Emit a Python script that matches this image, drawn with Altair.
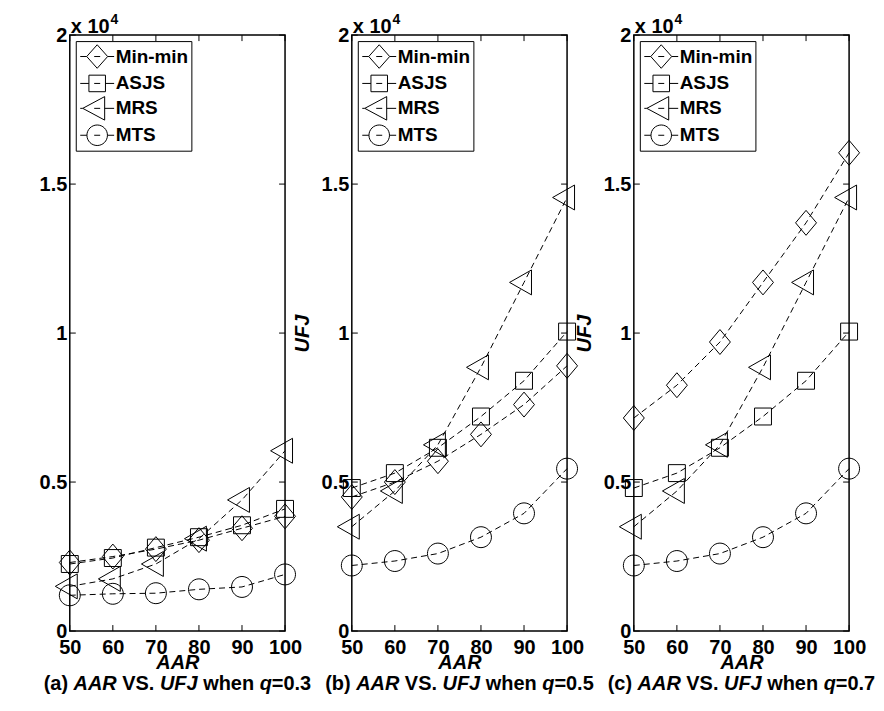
import altair as alt
import pandas as pd

# ---------------- data ----------------
AAR = [50, 60, 70, 80, 90, 100]
SERIES = ["Min-min", "ASJS", "MRS", "MTS"]
PANEL_IDS = ["(a)", "(b)", "(c)"]
Q_VALUES = ["0.3", "0.5", "0.7"]

# panel (a), q = 0.3
a_minmin = [2300, 2500, 2750, 3050, 3450, 3850]
a_asjs = [2250, 2450, 2800, 3150, 3550, 4100]
a_mrs = [1500, 1750, 2250, 3100, 4400, 6050]
a_mts = [1200, 1250, 1270, 1400, 1480, 1900]
# panel (b), q = 0.5
b_minmin = [4500, 5000, 5700, 6600, 7600, 8900]
b_asjs = [4800, 5300, 6150, 7200, 8400, 10050]
b_mrs = [3500, 4700, 6250, 8850, 11700, 14550]
b_mts = [2200, 2350, 2600, 3150, 3950, 5450]
# panel (c), q = 0.7
c_minmin = [7150, 8250, 9700, 11700, 13700, 16050]
c_asjs = [4800, 5300, 6150, 7200, 8400, 10050]
c_mrs = [3500, 4700, 6250, 8850, 11700, 14550]
c_mts = [2200, 2350, 2600, 3150, 3950, 5450]

PANEL_DATA = [
    [a_minmin, a_asjs, a_mrs, a_mts],
    [b_minmin, b_asjs, b_mrs, b_mts],
    [c_minmin, c_asjs, c_mrs, c_mts],
]

Y_TICKS = [0, 5000, 10000, 15000, 20000]
X_TICKS = [50, 60, 70, 80, 90, 100]

# ---------------- style ----------------
FONT = "Liberation Sans"
W, H = 216, 598
TICK = 6
FS = 20

SYM_SIZE = 576
U = (SYM_SIZE ** 0.5) / 2.0


def f(v):
    return f"{v / U:.3f}"


def diamond(hw=10.5, hh=12.5):
    return f"M0,{f(-hh)}L{f(hw)},0L0,{f(hh)}L{f(-hw)},0Z", hw, hw


def square(h=8.5):
    return f"M{f(-h)},{f(-h)}L{f(h)},{f(-h)}L{f(h)},{f(h)}L{f(-h)},{f(h)}Z", h, h


def tri_left(apex=14.5, side=7.5, hh=12.5):
    return f"M{f(-apex)},0L{f(side)},{f(-hh)}L{f(side)},{f(hh)}Z", apex, side


def circle(r=10.5):
    return (f"M{f(-r)},0A{f(r)},{f(r)},0,1,0,{f(r)},0"
            f"A{f(r)},{f(r)},0,1,0,{f(-r)},0Z"), r, r


SHAPES = [diamond(), square(), tri_left(), circle()]
MARKER_PATHS = [s[0] for s in SHAPES]


def with_stubs(shape, ext=17, inner=3):
    p, left, right = shape
    stub = ""
    if left < ext:
        stub += f"M{f(-ext)},0L{f(-left)},0"
    stub += f"M{f(-inner)},0L{f(inner)},0"
    if right < ext:
        stub += f"M{f(right)},0L{f(ext)},0"
    return p + stub


LEGEND_SHAPES = [diamond(hw=10.5, hh=11.8), square(8.3), tri_left(hh=11.8), circle(10.3)]
LEGEND_PATHS = [with_stubs(s) for s in LEGEND_SHAPES]

CW = {' ': 278, '(': 333, ')': 333, 'a': 556, 'b': 611, 'c': 556, 'A': 722,
      'R': 722, 'V': 667, 'S': 667, '.': 278, 'U': 722, 'F': 611, 'J': 556,
      'w': 778, 'h': 611, 'e': 556, 'n': 611, 'q': 611, '=': 584, '0': 556,
      '3': 556, '5': 556, '7': 556, 'x': 556, '1': 556}


def tw(s, size=FS):
    return sum(CW.get(c, 556) for c in s) * size / 1000.0


def panel(i):
    rows = []
    for name, vals in zip(SERIES, PANEL_DATA[i]):
        for x, v in zip(AAR, vals):
            rows.append({"AAR": x, "UFJ": v, "series": name})
    df = pd.DataFrame(rows)

    xscale = alt.Scale(domain=[50, 100], nice=False, zero=False)
    yscale = alt.Scale(domain=[0, 20000], nice=False)
    xaxis = alt.Axis(values=X_TICKS, ticks=False, domain=False, grid=False,
                     labelFont=FONT, labelFontSize=FS, labelFontWeight="bold",
                     labelColor="black", labelPadding=7, labelFlush=False,
                     labelOverlap=False, title="AAR", titleFont=FONT,
                     titleFontSize=FS, titleFontWeight="bold",
                     titleFontStyle="italic", titleColor="black",
                     titleY=38, titleBaseline="alphabetic")
    yaxis = alt.Axis(values=Y_TICKS, labelExpr="datum.value / 10000",
                     ticks=False, domain=False, grid=False, labelFont=FONT,
                     labelFontSize=FS, labelFontWeight="bold",
                     labelColor="black", labelPadding=3, labelFlush=False,
                     labelOverlap=False,
                     title=("UFJ" if i > 0 else None), titleFont=FONT,
                     titleFontSize=FS, titleFontWeight="bold",
                     titleFontStyle="italic", titleColor="black",
                     titleX=-43, titleY=H / 2, titleBaseline="alphabetic")

    X = alt.X("AAR:Q", scale=xscale, axis=xaxis)
    Y = alt.Y("UFJ:Q", scale=yscale, axis=yaxis)

    base = alt.Chart(df)
    lines = base.mark_line(color="black", strokeWidth=1, strokeDash=[6, 4]).encode(
        x=X, y=Y, detail="series:N", order="AAR:Q")
    pts = base.mark_point(filled=False, color="black", strokeWidth=1,
                          size=SYM_SIZE, opacity=1).encode(
        x=X, y=Y,
        shape=alt.Shape("series:N", scale=alt.Scale(domain=SERIES, range=MARKER_PATHS),
                        legend=None))
    leg = base.transform_filter("false").mark_point(
        filled=False, color="black", strokeWidth=1, size=SYM_SIZE, opacity=1).encode(
        x=X, y=Y,
        shape=alt.Shape("series:N", scale=alt.Scale(domain=SERIES, range=LEGEND_PATHS),
                        legend=alt.Legend(title=None, orient="top-left", offset=6,
                                          direction="vertical",
                                          strokeColor="black", fillColor="white",
                                          cornerRadius=0, padding=3,
                                          symbolOffset=6, symbolSize=SYM_SIZE,
                                          symbolStrokeColor="black",
                                          symbolFillColor="transparent",
                                          symbolStrokeWidth=1, rowPadding=0,
                                          labelOffset=6, labelFont=FONT,
                                          labelFontSize=19, labelFontWeight="bold",
                                          labelColor="black")))

    ytick_df = pd.DataFrame({"v": Y_TICKS})
    xtick_df = pd.DataFrame({"v": X_TICKS})
    yt = alt.Chart(ytick_df).mark_rule(color="black", strokeWidth=1)
    xt = alt.Chart(xtick_df).mark_rule(color="black", strokeWidth=1)
    YV = alt.Y("v:Q", scale=yscale, axis=yaxis)
    XV = alt.X("v:Q", scale=xscale, axis=xaxis)
    ticks = [
        yt.encode(y=YV, x=alt.value(0), x2=alt.value(TICK)),
        yt.encode(y=YV, x=alt.value(W - TICK), x2=alt.value(W)),
        xt.encode(x=XV, y=alt.value(0), y2=alt.value(TICK)),
        xt.encode(x=XV, y=alt.value(H - TICK), y2=alt.value(H)),
    ]

    # caption with mixed italic segments
    segs = [(PANEL_IDS[i], False, True), ("AAR", True, True), ("VS.", False, True),
            ("UFJ", True, True), ("when", False, True), ("q", True, False),
            ("=" + Q_VALUES[i], False, False)]
    total = sum(tw(t) + (tw(" ") if sp else 0) for t, _, sp in segs)
    xpos = W / 2 - total / 2
    texts = []
    for t, it, sp in segs:
        texts.append(
            alt.Chart(pd.DataFrame({"t": [t]})).mark_text(
                font=FONT, fontSize=FS, fontWeight="bold",
                fontStyle=("italic" if it else "normal"), color="black",
                align="left", baseline="alphabetic").encode(
                text="t:N", x=alt.value(xpos), y=alt.value(H + 59)))
        xpos += tw(t) + (tw(" ") if sp else 0)

    # exponent label "x 10^4"
    exp_end = 1 + tw("x 10")
    texts.append(alt.Chart(pd.DataFrame({"t": ["x 10"]})).mark_text(
        font=FONT, fontSize=FS, fontWeight="bold", color="black",
        align="right", baseline="alphabetic").encode(
        text="t:N", x=alt.value(exp_end), y=alt.value(-2)))
    texts.append(alt.Chart(pd.DataFrame({"t": ["4"]})).mark_text(
        font=FONT, fontSize=14, fontWeight="bold", color="black",
        align="left", baseline="alphabetic").encode(
        text="t:N", x=alt.value(exp_end + 1), y=alt.value(-11)))

    return alt.layer(lines, pts, leg, *ticks, *texts).resolve_scale(
        shape="independent").properties(width=W, height=H)


chart = alt.hconcat(panel(0), panel(1), panel(2), spacing=67, bounds="flush")
chart = chart.resolve_scale(shape="independent").resolve_legend(shape="independent")
chart = chart.properties(padding={"left": 30, "top": 3, "right": 0, "bottom": 5},
                         background="white")
chart = chart.configure_view(stroke="black", strokeWidth=1.5)

chart.save("out.html", embed_options={"renderer": "svg", "actions": False})
